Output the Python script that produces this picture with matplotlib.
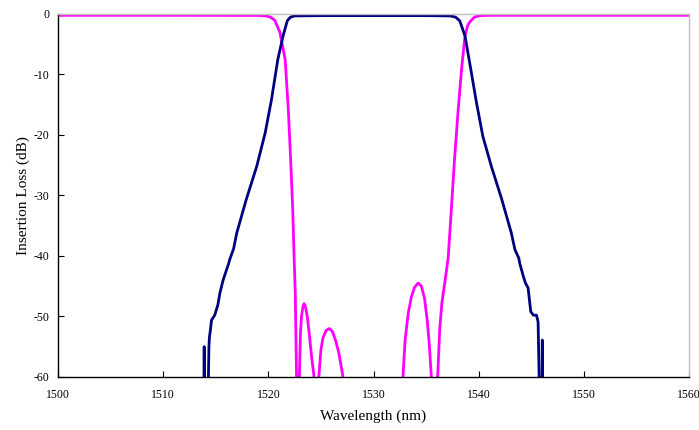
import numpy as np
import matplotlib
matplotlib.use("Agg")
import matplotlib.pyplot as plt

plt.rcParams['font.family'] = ['Liberation Serif', 'DejaVu Serif']
plt.rcParams['axes.unicode_minus'] = False

# transmission (pass band)
pass_wl = [1513.85, 1513.9, 1513.95, 1514.25, 1514.3, 1514.35, 1514.4, 1514.45, 1514.6, 1514.75,
           1514.9, 1515.2, 1515.4, 1515.7, 1516.2, 1516.35, 1516.7, 1517.0, 1517.9, 1518.9,
           1519.7, 1520.3, 1520.9, 1521.4, 1521.8, 1522.1, 1522.5, 1525.0, 1530.0, 1535.0,
           1537.3, 1537.8, 1538.2, 1538.7, 1539.2, 1539.8, 1540.4, 1541.2, 1542.2, 1543.1,
           1543.45, 1543.82, 1543.9, 1544.25, 1544.45, 1544.7, 1544.95, 1545.2, 1545.5, 1545.65,
           1545.75, 1545.85, 1546.0, 1546.05, 1546.1]
pass_db = [-75, -55, -75, -75, -60, -55, -53.4, -52.8, -50.6, -50.2,
           -49.8, -48.1, -46.1, -44.0, -41.4, -40.5, -38.8, -36.2, -30.7, -25.2,
           -19.7, -14.2, -7.6, -3.7, -1.2, -0.6, -0.4, -0.35, -0.35, -0.35,
           -0.4, -0.6, -1.2, -3.7, -8.7, -14.8, -20.3, -25.2, -30.7, -36.2,
           -39.0, -40.4, -41.2, -43.4, -44.5, -45.3, -49.2, -49.8, -49.8, -50.9,
           -60, -75, -75, -53.9, -75]

# reflection (stop band)
refl_wl = [1500.0, 1510.0, 1519.0, 1519.8, 1520.2, 1520.6, 1521.1, 1521.6, 1521.9, 1522.12,
           1522.32, 1522.45, 1522.56, 1522.68, 1522.82, 1522.95, 1523.05, 1523.15, 1523.3, 1523.4,
           1523.5, 1523.7, 1523.9, 1524.1, 1524.35, 1524.57, 1524.8, 1525.0, 1525.2, 1525.5,
           1525.8, 1526.1, 1526.4, 1526.7, 1527.1, 1527.4, 1532.5, 1532.8, 1533.0, 1533.3,
           1533.6, 1533.9, 1534.25, 1534.55, 1534.85, 1535.1, 1535.3, 1535.5, 1535.8, 1536.1,
           1536.3, 1536.5, 1536.95, 1537.1, 1537.4, 1537.7, 1538.05, 1538.4, 1538.7, 1538.95,
           1539.2, 1539.6, 1540.1, 1541.0, 1550.0, 1560.0]
refl_db = [-0.3, -0.3, -0.32, -0.4, -0.6, -1.1, -3.1, -7.6, -15.9, -24.1,
           -32.4, -40.3, -46.0, -60, -75, -60, -53, -50, -48.3, -47.9,
           -48.2, -50, -53, -56.5, -60, -75, -60, -55.5, -53.5, -52.3,
           -52.0, -52.5, -54, -56, -60, -75, -75, -60, -54, -49.5,
           -46.8, -45.2, -44.5, -45, -47, -50.5, -54.5, -60, -75, -60,
           -52, -47.8, -42.3, -40.3, -32.4, -24.1, -15.9, -8.7, -3.7, -2.0,
           -1.3, -0.6, -0.35, -0.3, -0.3, -0.3]

fig = plt.figure(figsize=(6.99, 4.30), dpi=100)
ax = fig.add_axes([0.083, 0.1233, 0.9027, 0.8453])

ax.plot(refl_wl, refl_db, color='#FF00FF', lw=2.0, solid_joinstyle='round')
ax.plot(pass_wl, pass_db, color='#000080', lw=2.0, solid_joinstyle='round')

ax.set_xlim(1500, 1560)
ax.set_ylim(-60, 0)
ax.set_xticks(np.arange(1500, 1561, 10))
ax.set_yticks(np.arange(-60, 1, 10))
ax.tick_params(direction='in', length=4, width=0.8, labelsize=8.5, pad=6)
ax.tick_params(axis='x', pad=9)

for side in ['top', 'right']:
    ax.spines[side].set_color('#c0c0c0')
    ax.spines[side].set_linewidth(1.0)
for side in ['left', 'bottom']:
    ax.spines[side].set_color('black')
    ax.spines[side].set_linewidth(1.0)

ax.set_xlabel('Wavelength (nm)', fontsize=11, labelpad=6)
ax.set_ylabel('Insertion Loss (dB)', fontsize=11, labelpad=3)

fig.savefig('out.png', dpi=100)
